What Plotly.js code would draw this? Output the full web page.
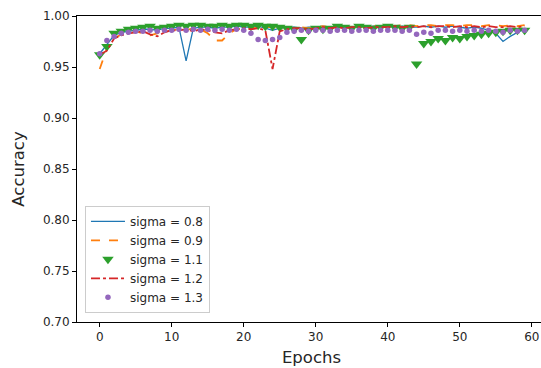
<!DOCTYPE html>
<html>
<head>
<meta charset="utf-8">
<script src="https://cdn.plot.ly/plotly-3.0.1.min.js"></script>
<style>
html,body{margin:0;padding:0;background:#fff;overflow:hidden;width:541px;height:368px;}
#chart{width:550px;height:368px;}
</style>
</head>
<body>
<div id="chart"></div>
<script>
const epochs = Array.from({length: 60}, (_, i) => i);

const sigma08 = [0.963,0.972,0.981,0.984,0.985,0.986,0.987,0.987,0.986,0.988,
                 0.988,0.989,0.956,0.988,0.989,0.989,0.988,0.989,0.989,0.990,
                 0.989,0.989,0.990,0.988,0.986,0.988,0.989,0.989,0.988,0.989,
                 0.989,0.990,0.989,0.989,0.990,0.989,0.990,0.989,0.990,0.989,
                 0.990,0.989,0.990,0.989,0.989,0.990,0.989,0.990,0.989,0.990,
                 0.989,0.988,0.989,0.988,0.986,0.983,0.975,0.980,0.984,0.987];

const sigma09 = [0.948,0.968,0.978,0.982,0.984,0.985,0.983,0.981,0.983,0.985,
                 0.986,0.987,0.986,0.988,0.987,0.983,0.976,0.976,0.983,0.987,
                 0.988,0.989,0.988,0.989,0.989,0.988,0.989,0.988,0.989,0.988,
                 0.989,0.990,0.989,0.989,0.990,0.990,0.989,0.990,0.990,0.990,
                 0.991,0.990,0.991,0.991,0.990,0.991,0.991,0.990,0.991,0.991,
                 0.990,0.991,0.991,0.990,0.991,0.991,0.990,0.991,0.990,0.991];

const sigma11 = [0.962,0.970,0.983,0.985,0.987,0.988,0.989,0.990,0.988,0.989,
                 0.990,0.991,0.990,0.991,0.991,0.990,0.990,0.991,0.990,0.991,
                 0.991,0.990,0.991,0.990,0.990,0.989,0.988,0.987,0.977,0.986,
                 0.988,0.987,0.988,0.990,0.989,0.988,0.990,0.989,0.988,0.989,
                 0.990,0.989,0.988,0.989,0.953,0.973,0.975,0.978,0.976,0.979,
                 0.978,0.980,0.981,0.982,0.983,0.984,0.985,0.986,0.986,0.986];

const sigma12 = [0.962,0.966,0.978,0.981,0.983,0.984,0.985,0.982,0.980,0.984,
                 0.986,0.986,0.987,0.985,0.987,0.986,0.984,0.983,0.986,0.987,
                 0.988,0.987,0.988,0.986,0.948,0.985,0.987,0.988,0.988,0.987,
                 0.988,0.989,0.988,0.989,0.988,0.989,0.989,0.988,0.989,0.989,
                 0.989,0.990,0.989,0.990,0.989,0.990,0.989,0.990,0.990,0.989,
                 0.990,0.989,0.990,0.989,0.990,0.989,0.989,0.990,0.989,0.990];

const sigma13 = [0.963,0.976,0.980,0.983,0.984,0.985,0.985,0.986,0.985,0.986,
                 0.986,0.987,0.986,0.987,0.986,0.987,0.986,0.987,0.986,0.987,
                 0.986,0.983,0.977,0.976,0.977,0.979,0.984,0.985,0.986,0.985,
                 0.986,0.986,0.985,0.986,0.986,0.985,0.986,0.986,0.985,0.986,
                 0.986,0.986,0.985,0.986,0.982,0.984,0.983,0.986,0.986,0.985,
                 0.986,0.985,0.986,0.985,0.986,0.985,0.984,0.986,0.985,0.986];

const labels = ['sigma = 0.8','sigma = 0.9','sigma = 1.1','sigma = 1.2','sigma = 1.3'];
const xTicks = [0,10,20,30,40,50,60];
const yTicks = [0.70,0.75,0.80,0.85,0.90,0.95,1.00];

const traces = [
  {x: epochs, y: sigma08, name: labels[0], mode: 'lines',
   line: {color: '#1f77b4', width: 1.3}},
  {x: epochs, y: sigma09, name: labels[1], mode: 'lines',
   line: {color: '#ff7f0e', width: 1.8, dash: 'dash'}},
  {x: epochs, y: sigma11, name: labels[2], mode: 'markers',
   marker: {color: '#2ca02c', symbol: 'triangle-down', size: 10}},
  {x: epochs, y: sigma12, name: labels[3], mode: 'lines',
   line: {color: '#d62728', width: 1.8, dash: 'dashdot'}},
  {x: epochs, y: sigma13, name: labels[4], mode: 'markers',
   marker: {color: '#9467bd', symbol: 'circle', size: 5.5}}
];

const axisCommon = {
  showline: true, linecolor: '#000', linewidth: 1, mirror: true,
  showgrid: false, zeroline: false,
  ticks: 'outside', ticklen: 4, tickcolor: '#000', tickwidth: 1,
  tickfont: {family: 'DejaVu Sans', size: 12, color: '#262626'}
};

const layout = {
  width: 550, height: 368,
  margin: {l: 77, r: 4, t: 16, b: 46},
  paper_bgcolor: '#fff', plot_bgcolor: '#fff',
  font: {family: 'DejaVu Sans', color: '#262626'},
  xaxis: Object.assign({}, axisCommon, {
    range: [-3.15, 61.97], tickvals: xTicks, ticktext: xTicks.map(String),
    title: {text: 'Epochs', font: {family: 'DejaVu Sans', size: 16.5, color: '#262626'}, standoff: 8}
  }),
  yaxis: Object.assign({}, axisCommon, {
    range: [0.70, 1.00], tickvals: yTicks, ticktext: yTicks.map(v => v.toFixed(2)),
    title: {text: 'Accuracy', font: {family: 'DejaVu Sans', size: 16.5, color: '#262626'}, standoff: 14}
  }),
  legend: {
    x: 0.017, y: 0.03, xanchor: 'left', yanchor: 'bottom',
    bgcolor: 'rgba(255,255,255,0.8)', bordercolor: '#cccccc', borderwidth: 1,
    font: {family: 'DejaVu Sans', size: 12, color: '#262626'},
    tracegroupgap: 0, itemwidth: 34
  },
  showlegend: true
};

Plotly.newPlot('chart', traces, layout, {staticPlot: true, displayModeBar: false});
</script>
</body>
</html>
